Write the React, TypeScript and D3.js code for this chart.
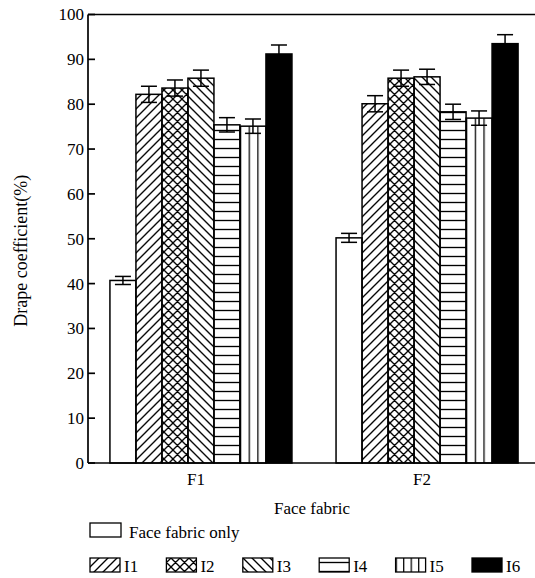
import React from "react";
import * as d3 from "d3";

// Face fabrics on the x axis
const categories = ["F1", "F2"];
// Interlining treatments shown in each group
const series = ["Face fabric only", "I1", "I2", "I3", "I4", "I5", "I6"];
// Drape coefficient (%) per treatment
const valuesF1 = [40.7, 82.2, 83.6, 85.8, 75.4, 75.1, 91.2];
const valuesF2 = [50.2, 80.1, 85.8, 86.1, 78.3, 76.9, 93.5];
// Error bar half-lengths
const errorsF1 = [0.9, 1.8, 1.8, 1.8, 1.6, 1.6, 2.0];
const errorsF2 = [1.0, 1.8, 1.8, 1.7, 1.7, 1.6, 2.0];
const yTicks = [0, 10, 20, 30, 40, 50, 60, 70, 80, 90, 100];

const fills = ["#fff", "url(#fwd)", "url(#cross)", "url(#back)", "url(#horiz)", "url(#vert3)", "#000"];
const legendFills = ["#fff", "url(#fwd)", "url(#cross)", "url(#back)", "url(#horiz)", "url(#vert4)", "#000"];

const W = 535;
const H = 578;
const FONT = "'Liberation Serif', 'Times New Roman', serif";

export default function App() {
  const y = d3.scaleLinear().domain([0, 100]).range([463, 14.5]);
  const x = d3
    .scaleBand<string>()
    .domain(categories)
    .range([88, 540])
    .paddingInner(0.195)
    .paddingOuter(0.097);
  const inner = d3.scaleBand<string>().domain(series).range([0, x.bandwidth()]);
  const data = [
    { cat: "F1", values: valuesF1, errors: errorsF1 },
    { cat: "F2", values: valuesF2, errors: errorsF2 },
  ];
  const bw = inner.bandwidth();
  const cap = 8;

  return (
    <svg
      width={W}
      height={H}
      style={{ position: "absolute", left: 0, top: 0, background: "#fff" }}
      fontFamily={FONT}
    >
      <defs>
        <pattern id="fwd" patternUnits="userSpaceOnUse" width={9} height={9}>
          <path d="M0,9 L9,0 M-2,2 L2,-2 M7,11 L11,7" stroke="#000" strokeWidth={1.35} />
        </pattern>
        <pattern id="back" patternUnits="userSpaceOnUse" width={9} height={9}>
          <path d="M0,0 L9,9 M-2,7 L2,11 M7,-2 L11,2" stroke="#000" strokeWidth={1.35} />
        </pattern>
        <pattern id="cross" patternUnits="userSpaceOnUse" width={9} height={9}>
          <path
            d="M0,9 L9,0 M-2,2 L2,-2 M7,11 L11,7 M0,0 L9,9 M-2,7 L2,11 M7,-2 L11,2"
            stroke="#000"
            strokeWidth={1.35}
          />
        </pattern>
        <pattern id="horiz" patternUnits="userSpaceOnUse" width={9} height={9}>
          <line x1={0} x2={9} y1={4.5} y2={4.5} stroke="#000" strokeWidth={1.35} />
        </pattern>
        <pattern id="vert3" patternUnits="objectBoundingBox" width={1 / 3} height={1}>
          <line x1={0.6} x2={0.6} y1={0} y2={600} stroke="#000" strokeWidth={1.3} />
        </pattern>
        <pattern id="vert4" patternUnits="objectBoundingBox" width={1 / 4} height={1}>
          <line x1={0.6} x2={0.6} y1={0} y2={600} stroke="#000" strokeWidth={1.3} />
        </pattern>
      </defs>

      {/* bars */}
      {data.map((g) => (
        <g key={g.cat} transform={`translate(${x(g.cat)},0)`}>
          {series.map((s, i) => {
            const v = g.values[i];
            const bx = inner(s)!;
            return (
              <rect
                key={s}
                x={bx}
                y={y(v)}
                width={bw}
                height={y(0) - y(v)}
                fill={fills[i]}
                stroke="#000"
                strokeWidth={1.5}
              />
            );
          })}
          {series.map((s, i) => {
            const v = g.values[i];
            const e = g.errors[i];
            const cx = inner(s)! + bw / 2;
            return (
              <g key={s + "-err"} stroke="#000" strokeWidth={1.5}>
                <line x1={cx} x2={cx} y1={y(v + e)} y2={y(v - e)} />
                <line x1={cx - cap} x2={cx + cap} y1={y(v + e)} y2={y(v + e)} />
                <line x1={cx - cap} x2={cx + cap} y1={y(v - e)} y2={y(v - e)} />
              </g>
            );
          })}
        </g>
      ))}

      {/* axes frame */}
      <g stroke="#000" strokeWidth={1.7} fill="none">
        <line x1={88} x2={88} y1={y(100)} y2={y(0)} />
        <line x1={88} x2={W} y1={y(100)} y2={y(100)} />
        <line x1={88} x2={W} y1={y(0)} y2={y(0)} />
        {yTicks.map((t) => (
          <line key={t} x1={88} x2={95} y1={y(t)} y2={y(t)} />
        ))}
      </g>

      {/* y tick labels */}
      {yTicks.map((t) => (
        <text key={t} x={84} y={y(t)} dy="0.35em" textAnchor="end" fontSize={17}>
          {t}
        </text>
      ))}

      {/* category labels */}
      {categories.map((c) => (
        <text key={c} x={x(c)! + x.bandwidth() / 2 - 5} y={485} textAnchor="middle" fontSize={17}>
          {c}
        </text>
      ))}

      <text x={312} y={514} textAnchor="middle" fontSize={17}>
        Face fabric
      </text>
      <text
        transform={`translate(27,${(y(0) + y(100)) / 2 + 12}) rotate(-90)`}
        textAnchor="middle"
        fontSize={18}
      >
        Drape coefficient(%)
      </text>

      {/* legend */}
      <g>
        <rect x={90} y={523} width={31} height={14} fill={legendFills[0]} stroke="#000" strokeWidth={1.3} />
        <text x={129} y={538} fontSize={17}>
          {series[0]}
        </text>
        {series.slice(1).map((s, k) => {
          const lx = 90 + k * 76.4;
          return (
            <g key={s}>
              <rect
                x={lx}
                y={558}
                width={30}
                height={14}
                fill={legendFills[k + 1]}
                stroke="#000"
                strokeWidth={1.3}
              />
              <text x={lx + 34} y={572} fontSize={17}>
                {s}
              </text>
            </g>
          );
        })}
      </g>
    </svg>
  );
}
